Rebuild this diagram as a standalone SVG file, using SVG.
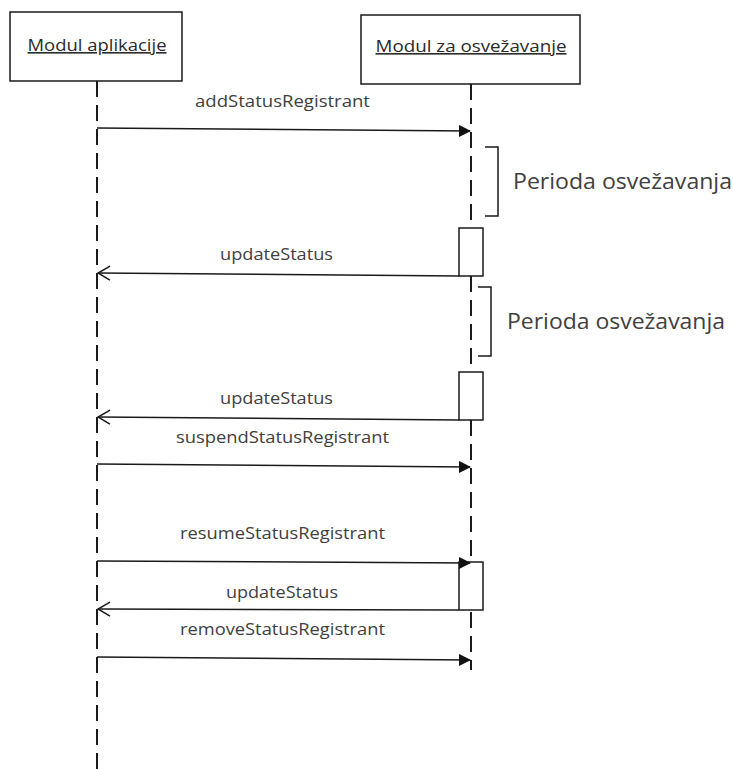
<svg xmlns="http://www.w3.org/2000/svg" width="733" height="769" viewBox="0 0 733 769">
<style>
.box{fill:#fff;stroke:#1a1a1a;stroke-width:1.5}
.life{stroke:#1a1a1a;stroke-width:2;stroke-dasharray:16 8;fill:none}
.msg{stroke:#1a1a1a;stroke-width:1.5;fill:none}
.act{fill:#fff;stroke:#1a1a1a;stroke-width:1.5}
.br{fill:none;stroke:#1a1a1a;stroke-width:1.5}
.t{font-family:"Open Sans","Liberation Sans",sans-serif;font-size:16px;fill:#404040}
.h{font-family:"Open Sans","Liberation Sans",sans-serif;font-size:16px;fill:#2a2a2a;text-decoration:underline}
.p{font-family:"Open Sans","Liberation Sans",sans-serif;font-size:21px;fill:#404040}
</style>
<defs>
<marker id="filled" markerWidth="12" markerHeight="12" refX="11" refY="6" orient="auto" markerUnits="userSpaceOnUse">
<path d="M0,0 L12,6 L0,12 Z" fill="#111"/>
</marker>
<marker id="open" markerWidth="14" markerHeight="16" refX="13" refY="8" orient="auto" markerUnits="userSpaceOnUse">
<path d="M1,1 L13,8 L1,15" fill="none" stroke="#1a1a1a" stroke-width="1.5"/>
</marker>
</defs>
<rect width="733" height="769" fill="#fff"/>
<g id="lifelines">
<line class="life" x1="97" y1="81" x2="97" y2="769"/>
<line class="life" x1="471" y1="84" x2="471" y2="670"/>
</g>
<g id="modul-aplikacije">
<rect class="box" x="10" y="12" width="172" height="69"/>
<text class="h" x="97" y="51" text-anchor="middle" textLength="139" lengthAdjust="spacingAndGlyphs">Modul aplikacije</text>
</g>
<g id="modul-za-osvezavanje">
<rect class="box" x="361" y="15" width="219" height="69"/>
<text class="h" x="471" y="52" text-anchor="middle" textLength="191" lengthAdjust="spacingAndGlyphs">Modul za osvežavanje</text>
</g>
<g id="activations">
<rect class="act" x="459" y="228" width="24" height="48"/>
<rect class="act" x="459" y="372" width="24" height="48"/>
<rect class="act" x="459" y="562" width="24" height="48"/>
</g>
<g id="periods">
<path class="br" d="M485,147 H498 V216 H485"/>
<text class="p" x="513" y="189" textLength="219" lengthAdjust="spacingAndGlyphs">Perioda osvežavanja</text>
<path class="br" d="M478,287 H491 V356 H478"/>
<text class="p" x="507" y="329" textLength="218" lengthAdjust="spacingAndGlyphs">Perioda osvežavanja</text>
</g>
<g id="connectors">
<line class="msg" x1="97" y1="128" x2="470" y2="131" marker-end="url(#filled)"/>
<line class="msg" x1="459" y1="276" x2="98" y2="273" marker-end="url(#open)"/>
<line class="msg" x1="459" y1="420" x2="98" y2="417" marker-end="url(#open)"/>
<line class="msg" x1="97" y1="464" x2="470" y2="467" marker-end="url(#filled)"/>
<line class="msg" x1="97" y1="561" x2="470" y2="563" marker-end="url(#filled)"/>
<line class="msg" x1="459" y1="610" x2="98" y2="609" marker-end="url(#open)"/>
<line class="msg" x1="97" y1="657" x2="470" y2="660" marker-end="url(#filled)"/>
</g>
<g id="labels">
<text class="t" x="195" y="107" textLength="175" lengthAdjust="spacingAndGlyphs">addStatusRegistrant</text>
<text class="t" x="220" y="260" textLength="113" lengthAdjust="spacingAndGlyphs">updateStatus</text>
<text class="t" x="220" y="404" textLength="113" lengthAdjust="spacingAndGlyphs">updateStatus</text>
<text class="t" x="176" y="443" textLength="213" lengthAdjust="spacingAndGlyphs">suspendStatusRegistrant</text>
<text class="t" x="180" y="539" textLength="205" lengthAdjust="spacingAndGlyphs">resumeStatusRegistrant</text>
<text class="t" x="226" y="598" textLength="112" lengthAdjust="spacingAndGlyphs">updateStatus</text>
<text class="t" x="180" y="635" textLength="205" lengthAdjust="spacingAndGlyphs">removeStatusRegistrant</text>
</g>
</svg>
